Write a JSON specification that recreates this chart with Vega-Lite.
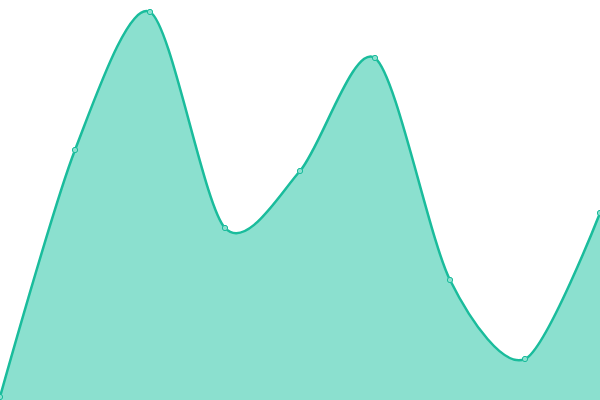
{
  "$schema": "https://vega.github.io/schema/vega-lite/v6.json",
  "width": 600,
  "height": 400,
  "autosize": {"type": "none"},
  "padding": 0,
  "background": "#ffffff",
  "config": {"view": {"stroke": null}},
  "data": {
    "values": [
      {"x": 0, "y": 3},
      {"x": 1, "y": 250},
      {"x": 2, "y": 388},
      {"x": 3, "y": 172},
      {"x": 4, "y": 229},
      {"x": 5, "y": 342},
      {"x": 6, "y": 120},
      {"x": 7, "y": 41},
      {"x": 8, "y": 187}
    ]
  },
  "encoding": {
    "x": {"field": "x", "type": "quantitative", "axis": null, "scale": {"domain": [0, 8], "nice": false}},
    "y": {"field": "y", "type": "quantitative", "axis": null, "scale": {"domain": [0, 400], "nice": false}}
  },
  "layer": [
    {"mark": {"type": "area", "interpolate": "cardinal", "tension": 0.15, "color": "#8be0cf"}},
    {"mark": {"type": "line", "interpolate": "cardinal", "tension": 0.15, "color": "#1abc9c", "strokeWidth": 2.5}},
    {"mark": {"type": "point", "filled": true, "fill": "#8be0cf", "stroke": "#1abc9c", "strokeWidth": 1, "size": 28, "opacity": 1}}
  ]
}
